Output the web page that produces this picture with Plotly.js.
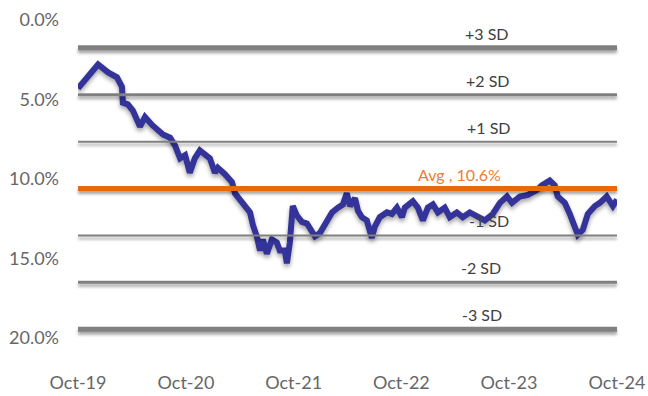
<!DOCTYPE html>
<html>
<head>
<meta charset="utf-8">
<script src="https://cdn.plot.ly/plotly-3.0.1.min.js"></script>
<style>
  html, body { margin: 0; padding: 0; background: #fff; }
  #chart { width: 648px; height: 396px; }
  .shapelayer path { filter: drop-shadow(0px 3px 1.5px rgba(0,0,0,0.35)); }
  .scatterlayer .js-line { filter: drop-shadow(0px 3px 2px rgba(0,0,0,0.35)); }
</style>
</head>
<body>
<div id="chart"></div>
<script>
// ---- data ----
const dates = [
 '2019-10-01','2019-12-08','2020-01-11','2020-02-10','2020-02-27','2020-03-01','2020-03-18','2020-04-04',
 '2020-04-28','2020-05-15','2020-06-08','2020-06-25','2020-07-15','2020-08-08','2020-08-25','2020-09-11',
 '2020-09-28','2020-10-14','2020-10-31','2020-11-17','2020-12-21','2021-01-07','2021-01-17','2021-02-10',
 '2021-03-06','2021-03-16','2021-04-12','2021-05-06','2021-05-16','2021-05-29','2021-06-09','2021-06-19',
 '2021-07-02','2021-07-19','2021-08-05','2021-08-15','2021-09-01','2021-09-08','2021-09-18','2021-09-28',
 '2021-10-12','2021-10-29','2021-11-15','2021-12-02','2021-12-12','2021-12-29','2022-01-15','2022-02-01',
 '2022-02-08','2022-02-28','2022-03-17','2022-03-30','2022-04-10','2022-04-27','2022-05-07','2022-05-20',
 '2022-06-06','2022-06-23','2022-07-03','2022-07-20','2022-08-13','2022-08-30','2022-09-16','2022-10-03',
 '2022-10-13','2022-11-09','2022-11-26','2022-12-13','2022-12-30','2023-01-16','2023-02-02','2023-02-25',
 '2023-03-14','2023-04-07','2023-04-27','2023-05-21','2023-06-07','2023-07-11','2023-08-07','2023-08-31',
 '2023-09-24','2023-10-11','2023-11-07','2023-12-04','2024-01-03','2024-01-20','2024-02-16','2024-03-04',
 '2024-03-14','2024-04-07','2024-04-24','2024-05-11','2024-05-21','2024-06-07','2024-06-24','2024-07-18',
 '2024-08-04','2024-08-27','2024-09-07','2024-09-17','2024-10-01'
];
const values = [
 4.3, 2.8, 3.3, 3.6, 4.2, 5.2, 5.3, 5.7,
 6.7, 6.1, 6.6, 6.9, 7.2, 7.4, 7.9, 8.7,
 8.5, 9.6, 8.7, 8.2, 8.7, 9.6, 9.3, 9.7,
 10.2, 10.9, 11.5, 12.1, 12.9, 13.6, 14.5, 13.8,
 14.7, 13.8, 14.0, 14.5, 14.5, 15.3, 14.0, 11.7,
 12.3, 12.7, 12.8, 13.3, 13.6, 13.4, 12.8, 12.3,
 12.1, 11.8, 11.6, 10.9, 11.7, 11.2, 12.0, 12.4,
 12.6, 13.7, 13.0, 12.4, 12.1, 12.2, 11.8, 12.4,
 11.8, 11.4, 11.8, 12.6, 11.8, 11.6, 12.1, 11.8,
 12.4, 12.1, 12.4, 12.1, 12.3, 12.6, 12.2, 11.5,
 11.1, 11.5, 11.1, 11.0, 10.7, 10.4, 10.1, 10.4,
 11.1, 11.5, 12.2, 13.0, 13.5, 13.2, 12.2, 11.7,
 11.5, 11.1, 11.4, 11.7, 11.3
];
const avgValue = 10.6;
const avgLabel = 'Avg , 10.6%';
const sdLevels = [1.75, 4.7, 7.65, 13.55, 16.5, 19.45];
const sdLabels = ['+3 SD', '+2 SD', '+1 SD', '-1 SD', '-2 SD', '-3 SD'];
const yTickVals = [0, 5, 10, 15, 20];
const yTickText = ['0.0%', '5.0%', '10.0%', '15.0%', '20.0%'];
const xTickVals = ['2019-10-01','2020-10-01','2021-10-01','2022-10-01','2023-10-01','2024-10-01'];
const xTickText = ['Oct-19', 'Oct-20', 'Oct-21', 'Oct-22', 'Oct-23', 'Oct-24'];
const xRange = ['2019-10-01', '2024-10-01'];

// ---- styles ----
const sdWidths = [5, 3, 2, 2, 3, 5];
const sdLabelX = [0.759, 0.761, 0.763, 0.763, 0.748, 0.750];
const FONT = 'Lato, "Open Sans", sans-serif';

const shapes = sdLevels.map((lv, i) => ({
  type: 'line', xref: 'paper', yref: 'y', x0: 0, x1: 1, y0: lv, y1: lv,
  line: { color: '#808080', width: sdWidths[i] }, layer: 'above'
}));
shapes.push({
  type: 'line', xref: 'paper', yref: 'y', x0: 0, x1: 1, y0: avgValue, y1: avgValue,
  line: { color: '#E8680C', width: 5 }, layer: 'above'
});

const annotations = sdLabels.map((t, i) => ({
  xref: 'paper', yref: 'y', x: sdLabelX[i], y: sdLevels[i], xanchor: 'center', yanchor: 'bottom', yshift: 3,
  text: t, showarrow: false, font: { family: FONT, size: 16, color: '#404040' }
}));
annotations.push({
  xref: 'paper', yref: 'y', x: 0.707, y: avgValue, xanchor: 'center', yanchor: 'bottom', yshift: 3,
  text: avgLabel, showarrow: false, font: { family: FONT, size: 16, color: '#ED7D31' }
});

const trace = {
  x: dates, y: values, type: 'scatter', mode: 'lines',
  line: { color: '#333399', width: 6 }, hoverinfo: 'skip'
};

const layout = {
  width: 648, height: 396,
  margin: { l: 78, r: 31, t: 20, b: 58 },
  paper_bgcolor: '#ffffff', plot_bgcolor: '#ffffff',
  showlegend: false,
  font: { family: FONT, size: 18, color: '#666666' },
  xaxis: {
    type: 'date', range: xRange, tickmode: 'array', tickvals: xTickVals, ticktext: xTickText,
    showgrid: false, zeroline: false, showline: false, ticks: '',
    ticklabelstandoff: 32, tickfont: { family: FONT, size: 18, color: '#666666' }
  },
  yaxis: {
    range: [20, 0], tickmode: 'array', tickvals: yTickVals, ticktext: yTickText,
    showgrid: false, zeroline: false, showline: false, ticks: '',
    ticklabelstandoff: 18, tickfont: { family: FONT, size: 18, color: '#666666' }
  },
  shapes: shapes,
  annotations: annotations
};

Plotly.newPlot('chart', [trace], layout, { staticPlot: true, displayModeBar: false });
</script>
</body>
</html>
